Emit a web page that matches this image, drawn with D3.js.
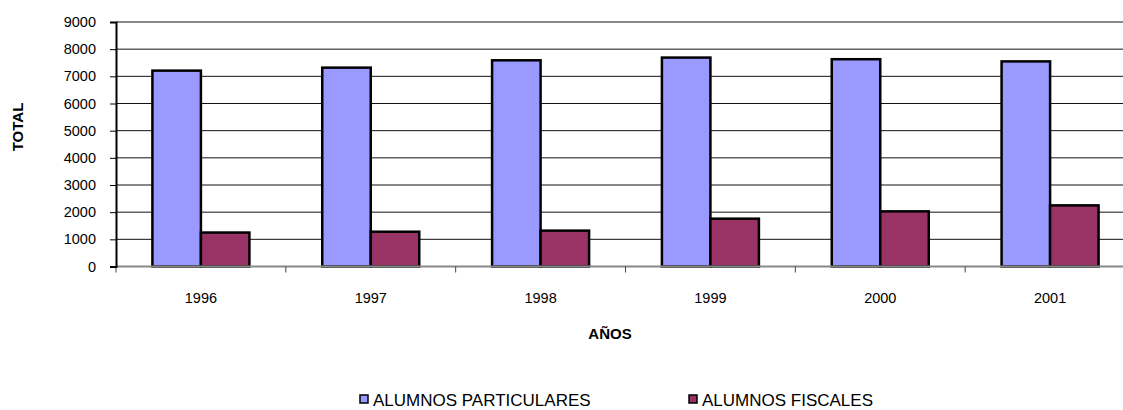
<!DOCTYPE html>
<html><head><meta charset="utf-8">
<script src="https://cdn.jsdelivr.net/npm/d3@7"></script>
<style>
html,body{margin:0;padding:0;background:#fff;}
svg{display:block;font-family:Arial,"Liberation Sans",sans-serif;}
</style></head>
<body>
<svg id="c" width="1123" height="410"></svg>
<script>
const years = ["1996","1997","1998","1999","2000","2001"];
const particulares = [7210, 7320, 7590, 7690, 7630, 7550];
const fiscales = [1250, 1280, 1320, 1760, 2030, 2250];
const seriesNames = ["ALUMNOS PARTICULARES","ALUMNOS FISCALES"];
const seriesColors = ["#9999FF","#993366"];
const yTicks = [0,1000,2000,3000,4000,5000,6000,7000,8000,9000];

const svg = d3.select("#c");
const L = 116, R = 1135, T = 22, B = 266.5;

const x = d3.scaleBand().domain(years).range([L, R]).padding(0);
const y = d3.scaleLinear().domain([0, 9000]).range([B, T]);
const barW = 48.5;
const FF = "Arial,'Liberation Sans',sans-serif";

// gridlines
svg.append("g").selectAll("line").data(yTicks.filter(v=>v>0 && v<9000)).join("line")
  .attr("x1", L).attr("x2", R).attr("y1", d=>y(d)).attr("y2", d=>y(d))
  .attr("stroke", "#111").attr("stroke-width", 1);
// top border
svg.append("line").attr("x1", L).attr("x2", R).attr("y1", y(9000)).attr("y2", y(9000))
  .attr("stroke", "#888").attr("stroke-width", 2);

// bars
const g = svg.append("g");
years.forEach((yr,i)=>{
  const cx = x(yr) + x.bandwidth()/2;
  [particulares[i], fiscales[i]].forEach((v,j)=>{
    g.append("rect")
      .attr("x", cx - barW + j*barW).attr("y", y(v))
      .attr("width", barW).attr("height", y(0)-y(v))
      .attr("fill", seriesColors[j]).attr("stroke", "#000").attr("stroke-width", 2.5);
  });
});

// bottom axis line
svg.append("line").attr("x1", L).attr("x2", R).attr("y1", y(0)).attr("y2", y(0))
  .attr("stroke", "#888").attr("stroke-width", 2);
// x tick marks at band boundaries
svg.append("g").selectAll("line").data(years).join("line")
  .attr("x1", d=>x(d)).attr("x2", d=>x(d)).attr("y1", y(0)).attr("y2", y(0)+6)
  .attr("stroke", "#444").attr("stroke-width", 1);
// x labels via axis
const xa = svg.append("g").attr("transform", `translate(0,${y(0)})`)
  .call(d3.axisBottom(x).tickSize(0).tickPadding(26));
xa.select(".domain").remove();
xa.selectAll("text").attr("font-size", 14.5).attr("font-family",FF).attr("fill","#000");

// y axis
const ya = svg.append("g").attr("transform", `translate(${L},0)`)
  .call(d3.axisLeft(y).tickValues(yTicks).tickSize(6).tickPadding(14).tickFormat(d3.format("d")));
ya.select(".domain").attr("stroke","#000").attr("stroke-width",2);
ya.selectAll(".tick line").attr("stroke","#000");
ya.selectAll("text").attr("font-size", 14.5).attr("font-family",FF).attr("fill","#000");

// axis titles
svg.append("text").attr("x", 610).attr("y", 339).attr("text-anchor","middle")
  .attr("font-size", 15).attr("font-weight","bold").text("AÑOS");
svg.append("text").attr("transform","translate(23,127) rotate(-90)").attr("text-anchor","middle")
  .attr("font-size", 15).attr("font-weight","bold").text("TOTAL");

// legend
const legX = [360, 689];
seriesNames.forEach((n,i)=>{
  svg.append("rect").attr("x", legX[i]).attr("y", 395).attr("width", 8).attr("height", 8)
    .attr("fill", seriesColors[i]).attr("stroke","#000").attr("stroke-width",1.5);
  svg.append("text").attr("x", legX[i]+13).attr("y", 405.5).attr("font-size", 17).attr("fill","#000")
    .text(n);
});
</script>
</body></html>
